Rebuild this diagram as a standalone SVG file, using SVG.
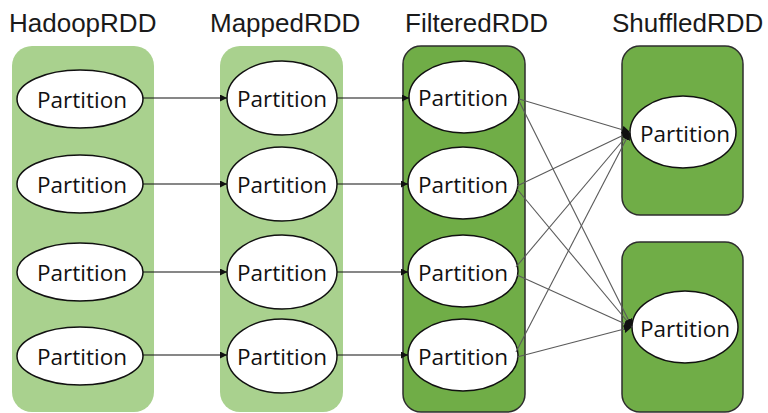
<svg xmlns="http://www.w3.org/2000/svg" width="768" height="413" viewBox="0 0 768 413">
<defs>
<style>
.title{font-family:"Liberation Sans",Arial,sans-serif;font-size:26px;fill:#1a1a1a}
.lbl{font-family:"Open Sans","Liberation Sans",sans-serif;font-size:22.5px;fill:#111;text-anchor:middle;dominant-baseline:central}
.light{fill:#a9d18e}
.dark{fill:#70ad47;stroke:#2e2e2e;stroke-width:1.5}
.part{fill:#fff;stroke:#111;stroke-width:1.5}
.h{stroke:#111;stroke-width:1.1;fill:none;marker-end:url(#ah)}
.x{stroke:#5a5a5a;stroke-width:1.1;fill:none;marker-end:url(#ax)}
</style>
<marker id="ah" viewBox="0 0 10 10" refX="10" refY="5" markerWidth="7" markerHeight="7" markerUnits="userSpaceOnUse" orient="auto"><path d="M0,0 L10,5 L0,10 z" fill="#111"/></marker>
<marker id="ax" viewBox="0 0 10 10" refX="10" refY="5" markerWidth="8" markerHeight="8" markerUnits="userSpaceOnUse" orient="auto"><path d="M0,0 L10,5 L0,10 z" fill="#111"/></marker>
</defs>
<rect width="768" height="413" fill="#fff"/>
<g id="titles">
<text class="title" x="9" y="32">HadoopRDD</text>
<text class="title" x="210" y="32">MappedRDD</text>
<text class="title" x="405" y="32">FilteredRDD</text>
<text class="title" x="612" y="32">ShuffledRDD</text>
</g>
<g id="hadoop">
<rect class="light" x="12" y="46" width="142" height="366" rx="20"/>
<g id="h1"><ellipse class="part" cx="80" cy="99" rx="63" ry="29"/><text class="lbl" x="82" y="99">Partition</text></g>
<g id="h2"><ellipse class="part" cx="80" cy="184" rx="63" ry="29"/><text class="lbl" x="82" y="184">Partition</text></g>
<g id="h3"><ellipse class="part" cx="80" cy="272" rx="63" ry="29"/><text class="lbl" x="82" y="272">Partition</text></g>
<g id="h4"><ellipse class="part" cx="80" cy="356" rx="63" ry="29"/><text class="lbl" x="82" y="356">Partition</text></g>
</g>
<g id="mapped">
<rect class="light" x="220" y="46" width="123" height="366" rx="20"/>
<g id="m1"><ellipse class="part" cx="282" cy="98" rx="55" ry="37"/><text class="lbl" x="282" y="98">Partition</text></g>
<g id="m2"><ellipse class="part" cx="282" cy="184" rx="55" ry="37"/><text class="lbl" x="282" y="184">Partition</text></g>
<g id="m3"><ellipse class="part" cx="282" cy="272" rx="55" ry="37"/><text class="lbl" x="282" y="272">Partition</text></g>
<g id="m4"><ellipse class="part" cx="282" cy="356" rx="55" ry="37"/><text class="lbl" x="282" y="356">Partition</text></g>
</g>
<g id="filtered">
<rect class="dark" x="403" y="46" width="122" height="366" rx="18"/>
<g id="f1"><ellipse class="part" cx="464" cy="97" rx="55" ry="36"/><text class="lbl" x="463" y="97">Partition</text></g>
<g id="f2"><ellipse class="part" cx="463" cy="183" rx="55" ry="36"/><text class="lbl" x="463" y="184">Partition</text></g>
<g id="f3"><ellipse class="part" cx="463" cy="271" rx="55" ry="36"/><text class="lbl" x="463" y="272">Partition</text></g>
<g id="f4"><ellipse class="part" cx="463" cy="355" rx="55" ry="36"/><text class="lbl" x="463" y="356">Partition</text></g>
</g>
<g id="shuffled1">
<rect class="dark" x="622" y="46" width="121" height="169" rx="18"/>
<ellipse class="part" cx="683" cy="132" rx="53" ry="36"/><text class="lbl" x="685" y="133">Partition</text>
</g>
<g id="shuffled2">
<rect class="dark" x="622" y="242" width="121" height="170" rx="18"/>
<ellipse class="part" cx="685" cy="327" rx="53" ry="36"/><text class="lbl" x="685" y="328">Partition</text>
</g>
<g id="connectors">
<line class="h" x1="143" y1="98" x2="227" y2="98"/>
<line class="h" x1="143" y1="184" x2="227" y2="184"/>
<line class="h" x1="143" y1="272" x2="227" y2="272"/>
<line class="h" x1="143" y1="355" x2="227" y2="355"/>
<line class="h" x1="337" y1="98" x2="409" y2="98"/>
<line class="h" x1="337" y1="184" x2="408" y2="184"/>
<line class="h" x1="337" y1="272" x2="408" y2="272"/>
<line class="h" x1="337" y1="355" x2="408" y2="355"/>
<line class="x" x1="519" y1="99" x2="630" y2="132"/>
<line class="x" x1="517" y1="186" x2="630" y2="132"/>
<line class="x" x1="516" y1="267" x2="630" y2="132"/>
<line class="x" x1="516" y1="352" x2="630" y2="132"/>
<line class="x" x1="519" y1="101" x2="632" y2="327"/>
<line class="x" x1="517" y1="189" x2="632" y2="327"/>
<line class="x" x1="517" y1="275" x2="632" y2="327"/>
<line class="x" x1="517" y1="357" x2="632" y2="327"/>
</g>
</svg>
